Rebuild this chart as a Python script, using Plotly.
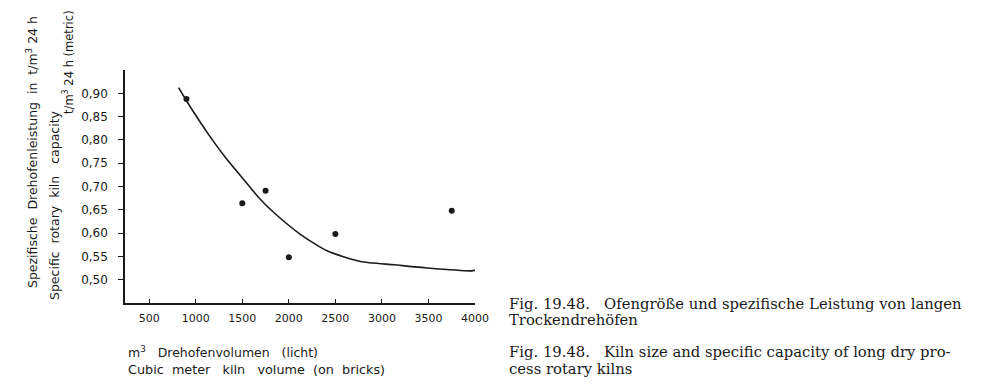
import plotly.graph_objects as go

# Measured data points
pts_x = [900, 1500, 1750, 2000, 2500, 3750]
pts_y = [0.888, 0.664, 0.691, 0.548, 0.598, 0.648]

# Fitted curve
curve_x = [816, 900, 989, 1133, 1313, 1494, 1673, 1818, 2120, 2410, 2770, 3130, 3490, 3960, 4000]
curve_y = [0.912, 0.884, 0.856, 0.813, 0.764, 0.720, 0.677, 0.648, 0.598, 0.562, 0.539, 0.532, 0.525, 0.519, 0.520]

x_ticks = [500, 1000, 1500, 2000, 2500, 3000, 3500, 4000]
x_ticklabels = ["500", "1000", "1500", "2000", "2500", "3000", "3500", "4000"]
y_ticks = [0.50, 0.55, 0.60, 0.65, 0.70, 0.75, 0.80, 0.85, 0.90]
y_ticklabels = ["0,50", "0,55", "0,60", "0,65", "0,70", "0,75", "0,80", "0,85", "0,90"]

INK = "#1a1a1a"
OFF = 8  # page body margin
W, H = 988 - OFF, 388 - OFF
L, R, T, B = 125 - OFF, 475 - OFF, 70 - OFF, 303 - OFF  # plot area in figure pixels


def px(x):  # x given in reference-screen pixels
    return (x - OFF - L) / (R - L)


def py(y):
    return (B - (y - OFF)) / (B - T)


fig = go.Figure()
fig.add_trace(go.Scatter(x=curve_x, y=curve_y, mode="lines",
                         line=dict(color=INK, width=1.6, shape="spline", smoothing=0.6),
                         hoverinfo="skip", showlegend=False))
fig.add_trace(go.Scatter(x=pts_x, y=pts_y, mode="markers",
                         marker=dict(color=INK, size=6), showlegend=False))

sans = "DejaVu Sans"
serif = "DejaVu Serif"

annotations = []
# y axis titles (rotated)
annotations.append(dict(text="Spezifische  Drehofenleistung  in  t/m<sup>3</sup> 24 h", x=px(32), y=py(152),
                        textangle=-90, font=dict(family=sans, size=12.5, color=INK)))
annotations.append(dict(text="Specific  rotary  kiln   capacity", x=px(54), y=py(205),
                        textangle=-90, font=dict(family=sans, size=12.5, color=INK)))
annotations.append(dict(text="t/m<sup>3</sup> 24 h (metric)", x=px(69), y=py(62),
                        textangle=-90, font=dict(family=sans, size=11.5, color=INK)))
# x axis titles
annotations.append(dict(text="m<sup>3</sup>   Drehofenvolumen   (licht)", x=px(126), y=py(352),
                        xanchor="left", font=dict(family=sans, size=12.5, color=INK)))
annotations.append(dict(text="Cubic  meter   kiln   volume  (on  bricks)", x=px(126), y=py(369),
                        xanchor="left", font=dict(family=sans, size=12.8, color=INK)))
# caption
cap = [
    ("Fig. 19.48.   Ofengröße und spezifische Leistung von langen", 303),
    ("Trockendrehöfen", 319),
    ("Fig. 19.48.   Kiln size and specific capacity of long dry pro-", 351),
    ("cess rotary kilns", 368),
]
for t, yy in cap:
    annotations.append(dict(text=t, x=px(507), y=py(yy), xanchor="left",
                            font=dict(family=serif, size=14.8, color=INK)))

for a in annotations:
    a.update(xref="paper", yref="paper", showarrow=False, yanchor="middle")
    a.setdefault("xanchor", "center")

fig.update_layout(
    width=W, height=H,
    margin=dict(l=L, r=W - R, t=T, b=H - B, pad=0),
    paper_bgcolor="white", plot_bgcolor="white",
    annotations=annotations,
    showlegend=False,
)
fig.update_xaxes(range=[240, 4000], tickvals=x_ticks, ticktext=x_ticklabels,
                 showgrid=False, zeroline=False, showline=True, linecolor=INK, linewidth=1.5,
                 ticks="inside", ticklen=4, tickcolor=INK, tickwidth=1.2,
                 tickfont=dict(family=sans, size=11, color=INK), ticklabelstandoff=4)
fig.update_yaxes(range=[0.45, 0.95], tickvals=y_ticks, ticktext=y_ticklabels,
                 showgrid=False, zeroline=False, showline=True, linecolor=INK, linewidth=1.5,
                 ticks="outside", ticklen=5, tickcolor=INK, tickwidth=1.2,
                 tickfont=dict(family=sans, size=12, color=INK), ticklabelstandoff=8)

fig.write_html("out.html")
